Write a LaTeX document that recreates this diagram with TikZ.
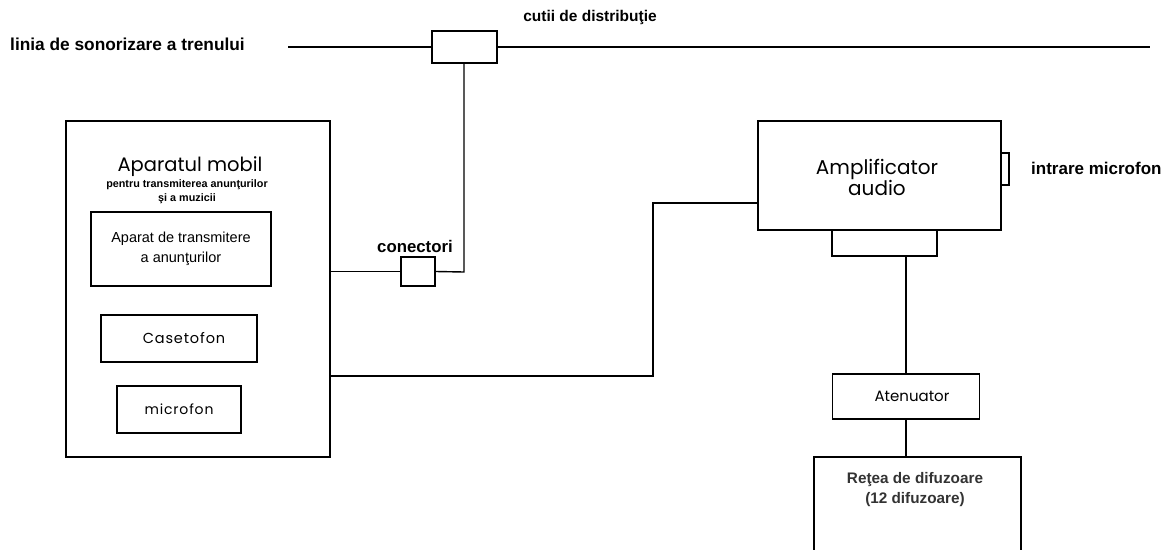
\documentclass[tikz,border=0pt]{standalone}
\usepackage{fontspec}
\setmainfont{Liberation Sans}
\newfontfamily\geo{Poppins}
\begin{document}
\begin{tikzpicture}[x=1pt,y=-1pt,
  box/.style={draw, line width=1.6pt, inner sep=0pt, align=center},
  wire/.style={line width=1.4pt},
  lbl/.style={inner sep=0pt, align=center, font=\bfseries\fontsize{15}{17}\selectfont}
]
\useasboundingbox (0,0) rectangle (1170,549);
\clip (0,0) rectangle (1170,549);
% main line
\node[box, minimum width=65pt, minimum height=32pt] (dist) at (464.5,47) {};
\coordinate (lineL) at (288,47);
\coordinate (lineR) at (1150,47);
\draw[line width=2pt] (lineL) -- (dist.west);
\draw[line width=2pt] (dist.east) -- (lineR);
\node[lbl, anchor=west, font=\bfseries\fontsize{17.3}{19}\selectfont] (lineLbl) at (10,44) {linia de sonorizare a trenului};
\node[lbl, font=\bfseries\fontsize{15.5}{17}\selectfont] (distLbl) at (590,17) {cutii de distribuţie};
% mobile unit
\node[box, minimum width=264pt, minimum height=336pt] (main) at (198,289) {};
\node[inner sep=0pt, font=\geo\fontsize{19.5}{21}\selectfont] (title) at (190,167) {Aparatul mobil};
\node[inner sep=0pt, align=center, font=\bfseries\fontsize{10.8}{14}\selectfont] (sub) at (187,191.5) {pentru transmiterea anunţurilor\\şi a muzicii};
\node[box, minimum width=180pt, minimum height=74pt, font=\fontsize{14.5}{20}\selectfont] (tx) at (181,249) {Aparat de transmitere\\a anunţurilor};
\node[box, line width=1.3pt, minimum width=156pt, minimum height=47pt, font=\geo\fontsize{14.5}{15}\selectfont] (cas) at (179,338.5) {\hspace*{10pt}\addfontfeature{LetterSpace=6}Casetofon};
\node[box, line width=1.3pt, minimum width=124pt, minimum height=47pt, font=\geo\fontsize{14}{15}\selectfont] (mic) at (179,409.5) {\addfontfeature{LetterSpace=6}microfon};
% connector
\node[box, line width=1.4pt, minimum width=34pt, minimum height=29pt] (con) at (418,271.5) {};
\node[lbl, font=\bfseries\fontsize{16.8}{18}\selectfont] (conLbl) at (415,246) {conectori};
\coordinate (drop) at (464,272);
\draw[wire] (dist.south -| drop) -- (drop) -- (con.east);
\draw[wire] (con.west) -- (con.west -| main.east);
% amplifier
\node[box, line width=1.4pt, minimum width=243pt, minimum height=109pt] (amp) at (879.5,175.5) {};
\node[inner sep=0pt, align=center, font=\geo\fontsize{20}{21}\selectfont] (ampLbl) at (877,177) {Amplificator\\audio};
\node[box, line width=1.3pt, minimum width=8pt, minimum height=32pt] (mictab) at (1005,169) {};
\node[lbl, anchor=west, font=\bfseries\fontsize{17}{18}\selectfont] (micLbl) at (1031,168) {intrare microfon};
\node[box, line width=1.3pt, minimum width=105pt, minimum height=26pt] (tab) at (884.5,243) {};
\coordinate (bendA) at (653,376);
\coordinate (bendB) at (653,203);
\draw[wire] (main.east |- bendA) -- (bendA) -- (bendB) -- (amp.west |- bendB);
% attenuator and speakers
\node[box, line width=1.3pt, minimum width=147pt, minimum height=45pt, font=\geo\fontsize{15}{15}\selectfont] (att) at (906,396.5) {\hspace*{12pt}Atenuator};
\draw[wire] (tab.south -| att.north) -- (att.north);
\node[box, line width=1.4pt, minimum width=207pt, minimum height=110pt] (spk) at (917.5,512) {};
\node[inner sep=0pt, align=center, text=black!80, font=\bfseries\fontsize{15.3}{20}\selectfont] (spkLbl) at (915,489.5) {Reţea de difuzoare\\(12 difuzoare)};
\draw[wire] (att.south) -- (att.south |- spk.north);
\end{tikzpicture}
\end{document}
